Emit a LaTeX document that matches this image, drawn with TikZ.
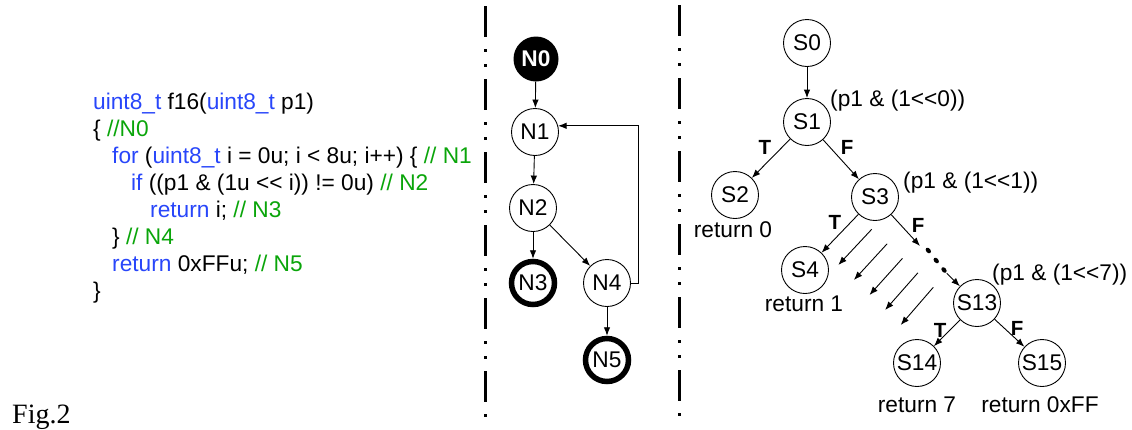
\documentclass[tikz,border=0pt]{standalone}
\usepackage{fontspec}
\setmainfont{Liberation Sans}
\newfontfamily\figfont{Liberation Serif}
\usetikzlibrary{arrows.meta}
\definecolor{kwblue}{RGB}{40,70,250}
\definecolor{cmgreen}{RGB}{10,165,10}
\newcommand{\shl}{<\kern0pt<}
\begin{document}
\begin{tikzpicture}[x=1pt,y=-1pt,
  every node/.style={inner sep=0pt},
  codeline/.style={anchor=base west,font=\fontsize{22.7}{26}\selectfont},
  st/.style={circle,draw,line width=0.9pt,minimum size=47pt,font=\fontsize{22.7}{26}\selectfont},
  startnode/.style={circle,fill=black,text=white,minimum size=45pt,font=\fontsize{22.7}{26}\selectfont\bfseries},
  endnode/.style={circle,draw,line width=5.5pt,minimum size=43pt,font=\fontsize{22.7}{26}\selectfont},
  lbl/.style={font=\fontsize{22.7}{26}\selectfont},
  tf/.style={font=\fontsize{20.5}{24}\selectfont\bfseries},
  arr/.style={line width=0.9pt,-{Latex[length=8.5pt,width=6.5pt]}},
  sep/.style={line width=3.3pt,dash pattern=on 31pt off 12pt on 3pt off 12pt on 3pt off 12pt}
]
\useasboundingbox (0,0) rectangle (1132,429);

% ---- code ----
\node[codeline] (c1) at (93,109) {\textcolor{kwblue}{uint8\_t} f16(\textcolor{kwblue}{uint8\_t} p1)};
\node[codeline] (c2) at (93,136) {\{ \textcolor{cmgreen}{//N0}};
\node[codeline] (c3) at (112,163) {\textcolor{kwblue}{for} (\textcolor{kwblue}{uint8\_t} i = 0u; i < 8u; i++) \{ \textcolor{cmgreen}{// N1}};
\node[codeline] (c4) at (131,190) {\textcolor{kwblue}{if} ((p1 \& (1u \shl\ i)) != 0u) \textcolor{cmgreen}{// N2}};
\node[codeline] (c5) at (150,217) {\textcolor{kwblue}{return} i; \textcolor{cmgreen}{// N3}};
\node[codeline] (c6) at (112,244) {\} \textcolor{cmgreen}{// N4}};
\node[codeline] (c7) at (112,271) {\textcolor{kwblue}{return} 0xFFu; \textcolor{cmgreen}{// N5}};
\node[codeline] (c8) at (93,298) {\}};

\node[anchor=base west,font=\figfont\fontsize{28}{32}\selectfont] (fig) at (12,423) {Fig.2};

% ---- separators ----
\draw[sep] (485.5,6) -- (485.5,426);
\draw[sep] (679.5,5) -- (679.5,425);

% ---- CFG ----
\node[startnode] (N0) at (536,59) {N0};
\node[st] (N1) at (535,132) {N1};
\node[st] (N2) at (533,208) {N2};
\node[endnode] (N3) at (533,283) {N3};
\node[st] (N4) at (607,283) {N4};
\node[endnode] (N5) at (607,360) {N5};
\draw[arr] (N0) -- (N1);
\draw[arr] (N1) -- (N2);
\draw[arr] (N2) -- (N3);
\draw[arr] (N2) -- (N4);
\draw[arr] (N4) -- (N5);
\draw[arr] (N4.east) -- ++(7,0) |- (N1.15);

% ---- tree ----
\node[st] (S0) at (807,43) {S0};
\node[st] (S1) at (807,122) {S1};
\node[st] (S2) at (735,195) {S2};
\node[st] (S3) at (875,197) {S3};
\node[st] (S4) at (805,270) {S4};
\node[st] (S13) at (977,303) {S13};
\node[st] (S14) at (917,363) {S14};
\node[st] (S15) at (1042,363) {S15};

\node[lbl,anchor=west] (q0) at (830,101) {(p1 \& (1\shl0))};
\node[lbl,anchor=west] (q1) at (903,183) {(p1 \& (1\shl1))};
\node[lbl,anchor=west] (q7) at (992,275) {(p1 \& (1\shl7))};
\node[lbl] (r0) at (733,230) {return 0};
\node[lbl] (r1) at (804,304) {return 1};
\node[lbl] (r7) at (917,405) {return 7};
\node[lbl] (rff) at (1040,405) {return 0xFF};

\node[tf] (t1) at (765,147) {T};
\node[tf] (f1) at (847,147) {F};
\node[tf] (t2) at (835,222) {T};
\node[tf] (f2) at (918,225) {F};
\node[tf] (t3) at (940,330) {T};
\node[tf] (f3) at (1017,328) {F};

\draw[arr] (S0) -- (S1);
\draw[arr] (S1) -- (S2);
\draw[arr] (S1) -- (S3);
\draw[arr] (S3) -- (S4);
\coordinate (fa) at (920,246);
\coordinate (fb) at (946.7,273.3);
\draw[arr] (S3) -- (fa);
\draw[arr] (fb) -- (S13);
\foreach \px/\py in {928.3/250.5, 936.2/260.5, 944/270}
  \fill[rotate around={40:(\px,\py)}] (\px,\py) ellipse (2.2pt and 3.2pt);
\draw[arr] (S13) -- (S14);
\draw[arr] (S13) -- (S15);

% parallel arrows
\foreach \i in {0,1,2,3,4}{
  \coordinate (pa\i) at ({871.7+15.4*\i},{229.3+14.5*\i});
  \coordinate (pb\i) at ({838.3+15.6*\i},{265+15*\i});
  \draw[arr] (pa\i) -- (pb\i);
}
\end{tikzpicture}
\end{document}
